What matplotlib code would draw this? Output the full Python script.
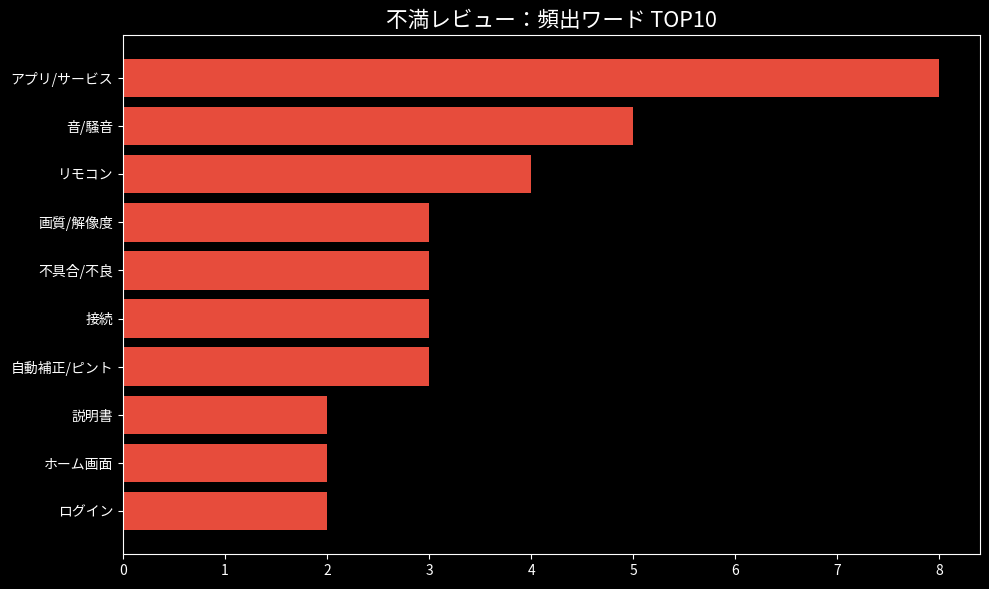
import matplotlib
matplotlib.use("Agg")
import matplotlib.pyplot as plt

words = ["アプリ/サービス", "音/騒音", "リモコン", "画質/解像度", "不具合/不良",
         "接続", "自動補正/ピント", "説明書", "ホーム画面", "ログイン"]
counts = [8, 5, 4, 3, 3, 3, 3, 2, 2, 2]

plt.style.use("dark_background")
plt.rcParams["font.family"] = ["Noto Sans CJK JP", "DejaVu Sans"]

fig, ax = plt.subplots(figsize=(9.89, 5.89), dpi=100)
ax.barh(words, counts, color="#e74c3c", height=0.8)
ax.invert_yaxis()
ax.set_title("不満レビュー：頻出ワード TOP10", fontsize=15.6)
ax.tick_params(labelsize=10)
fig.subplots_adjust(left=0.1244, right=0.9909, top=0.9406, bottom=0.0594)
fig.savefig("out.png", dpi=100)
